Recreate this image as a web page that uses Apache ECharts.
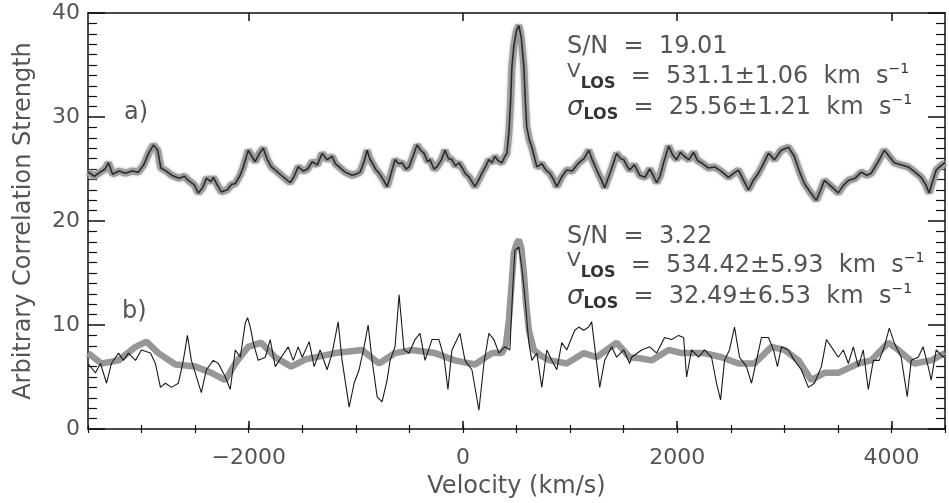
<!DOCTYPE html>
<html>
<head>
<meta charset="utf-8">
<script src="https://cdn.jsdelivr.net/npm/echarts@6/dist/echarts.min.js"></script>
<style>
  html, body { margin: 0; padding: 0; background: #fff; }
  #chart { width: 949px; height: 503px; }
</style>
</head>
<body>
<div id="chart"></div>
<script>
// velocity (km/s) vs correlation strength
const xMin = -3500
const xMax = 4500
const xMajorTicks = [-2000, 0, 2000, 4000]

// a) high S/N spectrum
const curveA = [
  [-3500, 24.7], [-3440, 24.3], [-3400, 24.6], [-3340, 25.0], [-3310, 25.6], [-3270, 24.5],
  [-3210, 24.8], [-3150, 24.6], [-3090, 24.8], [-3030, 24.7], [-2980, 25.4], [-2930, 26.6],
  [-2890, 27.3], [-2850, 26.8], [-2820, 25.1], [-2770, 24.8], [-2720, 24.4], [-2650, 24.1],
  [-2600, 24.3], [-2563, 23.9], [-2510, 23.5], [-2470, 22.7], [-2430, 23.2], [-2395, 24.1],
  [-2350, 23.8], [-2330, 24.2], [-2290, 23.4], [-2255, 22.8], [-2200, 23.0], [-2160, 23.5],
  [-2125, 23.6], [-2080, 24.4], [-2050, 25.2], [-2004, 26.8], [-1970, 26.2], [-1939, 25.7],
  [-1900, 26.5], [-1864, 27.0], [-1830, 26.0], [-1789, 25.2], [-1740, 24.8], [-1696, 24.4],
  [-1650, 24.0], [-1612, 23.7], [-1575, 24.3], [-1538, 25.2], [-1490, 24.8], [-1450, 25.0],
  [-1407, 25.7], [-1360, 25.4], [-1314, 26.5], [-1268, 25.9], [-1221, 26.2], [-1190, 25.5],
  [-1156, 25.2], [-1100, 24.7], [-1035, 24.4], [-1000, 24.5], [-960, 24.7], [-920, 25.8],
  [-895, 26.8], [-870, 26.0], [-848, 25.6], [-810, 24.9], [-783, 24.6], [-740, 23.9],
  [-708, 23.3], [-670, 24.6], [-634, 25.9], [-600, 25.5], [-569, 25.6], [-530, 25.0],
  [-503, 25.2], [-460, 26.4], [-429, 27.3], [-395, 26.8], [-363, 26.5], [-330, 25.7],
  [-308, 25.9], [-270, 25.0], [-242, 25.2], [-200, 25.9], [-168, 26.8], [-135, 26.0],
  [-103, 25.9], [-70, 25.3], [-37, 25.6], [0, 25.0], [19, 24.6], [60, 24.2], [112, 23.3],
  [150, 24.0], [177, 24.6], [210, 25.2], [242, 25.9], [270, 25.6], [298, 26.2], [330, 25.8],
  [363, 25.6], [391, 26.2], [410, 26.5], [429, 28.5], [445, 31.5], [457, 34.8], [475, 36.8],
  [500, 38.3], [522, 38.8], [545, 37.6], [569, 34.8], [585, 31.0], [596, 29.0], [620, 27.8],
  [643, 27.1], [665, 26.2], [690, 25.2], [736, 25.5], [775, 24.9], [811, 24.6], [845, 24.0],
  [876, 23.3], [920, 24.2], [969, 24.9], [1020, 24.8], [1081, 25.6], [1130, 26.0], [1174, 26.8],
  [1210, 25.8], [1249, 24.9], [1290, 24.0], [1323, 23.2], [1380, 24.8], [1435, 26.5],
  [1470, 26.0], [1501, 25.9], [1530, 25.3], [1556, 24.9], [1600, 25.4], [1650, 24.4],
  [1700, 24.2], [1743, 25.0], [1775, 24.4], [1808, 23.7], [1840, 24.3], [1873, 25.6],
  [1920, 27.2], [1955, 26.4], [1994, 25.9], [2030, 26.6], [2069, 26.2], [2110, 25.9],
  [2153, 26.6], [2190, 25.8], [2227, 25.6], [2290, 25.1], [2349, 25.2], [2410, 24.8],
  [2479, 24.2], [2530, 24.6], [2572, 24.9], [2620, 23.9], [2666, 23.0], [2710, 23.9],
  [2759, 24.6], [2800, 25.4], [2852, 26.5], [2908, 25.9], [2970, 26.8], [3038, 27.1],
  [3094, 26.2], [3140, 24.8], [3187, 23.6], [3240, 22.8], [3299, 22.0], [3340, 23.0],
  [3374, 23.9], [3440, 23.3], [3504, 22.7], [3550, 23.4], [3598, 23.9], [3660, 24.1],
  [3719, 24.7], [3770, 24.4], [3812, 24.6], [3870, 25.6], [3933, 26.8], [3980, 26.2],
  [4026, 25.6], [4090, 25.4], [4157, 25.2], [4220, 24.7], [4278, 24.2], [4320, 23.5],
  [4352, 22.7], [4390, 24.0], [4418, 24.9], [4460, 25.3], [4500, 25.6]
]

// b) low S/N spectrum (thin black)
const curveB = [
  [-3500, 6.3], [-3430, 5.4], [-3383, 6.3], [-3327, 4.4], [-3281, 6.3], [-3215, 7.3],
  [-3169, 6.6], [-3122, 7.3], [-3057, 6.6], [-3001, 7.6], [-2917, 7.3], [-2871, 6.3],
  [-2824, 4.0], [-2777, 4.4], [-2721, 4.0], [-2656, 4.4], [-2610, 6.6], [-2572, 9.0],
  [-2535, 6.6], [-2442, 3.5], [-2395, 5.7], [-2330, 6.6], [-2283, 6.3], [-2218, 5.0],
  [-2172, 3.8], [-2125, 7.6], [-2078, 6.9], [-2032, 10.2], [-2010, 10.7], [-1985, 9.8],
  [-1957, 8.3], [-1911, 6.6], [-1845, 6.9], [-1799, 8.6], [-1752, 6.0], [-1696, 6.9],
  [-1631, 7.9], [-1584, 6.6], [-1538, 7.9], [-1500, 6.9], [-1435, 8.4], [-1389, 6.0],
  [-1333, 7.6], [-1268, 5.7], [-1221, 7.3], [-1165, 10.3], [-1128, 6.6], [-1062, 2.1],
  [-1016, 4.4], [-969, 5.7], [-923, 7.9], [-885, 10.0], [-848, 6.6], [-801, 3.1],
  [-755, 2.6], [-708, 4.7], [-680, 6.6], [-634, 7.9], [-596, 12.9], [-550, 7.6],
  [-503, 7.3], [-447, 8.6], [-401, 9.2], [-354, 6.6], [-289, 8.6], [-224, 8.6],
  [-177, 6.9], [-140, 3.8], [-103, 7.6], [-28, 9.2], [19, 6.6], [84, 5.7], [149, 1.8],
  [196, 6.3], [242, 9.2], [289, 8.6], [336, 7.3], [391, 7.9], [438, 7.6], [466, 13.7],
  [485, 17.2], [522, 17.5], [550, 15.5], [578, 12.7], [615, 8.3], [643, 6.6], [690, 7.3],
  [736, 4.0], [783, 7.6], [829, 6.6], [876, 5.7], [923, 8.3], [969, 7.6], [1016, 8.8],
  [1044, 9.5], [1081, 9.8], [1128, 9.5], [1174, 9.8], [1202, 10.3], [1230, 7.9],
  [1277, 4.0], [1323, 6.6], [1389, 7.9], [1435, 6.9], [1501, 7.6], [1556, 6.3],
  [1575, 6.9], [1668, 7.6], [1743, 7.9], [1808, 7.3], [1883, 8.8], [1948, 8.6],
  [2013, 9.0], [2060, 8.8], [2088, 5.0], [2134, 7.6], [2200, 6.9], [2255, 7.6],
  [2321, 6.9], [2367, 4.4], [2405, 2.8], [2442, 6.6], [2488, 7.6], [2535, 9.8],
  [2582, 6.9], [2647, 6.0], [2694, 4.4], [2740, 6.6], [2787, 8.8], [2852, 8.8],
  [2899, 7.6], [2936, 6.0], [2973, 7.9], [3038, 7.6], [3094, 6.6], [3159, 5.7],
  [3225, 4.0], [3281, 4.4], [3346, 6.0], [3393, 8.6], [3439, 7.9], [3504, 6.9],
  [3551, 7.6], [3598, 6.3], [3644, 7.9], [3691, 6.0], [3737, 7.6], [3784, 3.8],
  [3831, 6.6], [3886, 6.6], [3933, 7.9], [3980, 9.7], [4026, 8.3], [4091, 6.9],
  [4147, 3.1], [4185, 6.6], [4250, 6.9], [4296, 7.9], [4343, 6.0], [4371, 4.7],
  [4418, 7.6], [4483, 6.9], [4500, 7.1]
]

// b) smooth fit (thick gray)
const fitB = [
  [-3500, 7.3], [-3374, 6.3], [-3215, 6.6], [-3057, 7.9], [-2954, 8.4], [-2843, 7.3],
  [-2684, 6.2], [-2498, 6.0], [-2349, 5.4], [-2218, 4.7], [-2125, 6.3], [-2004, 7.9],
  [-1883, 8.3], [-1752, 6.9], [-1603, 6.0], [-1470, 6.7], [-1193, 7.3], [-941, 7.6],
  [-783, 6.3], [-634, 7.3], [-475, 7.6], [-261, 7.3], [-75, 6.6], [112, 6.2], [270, 7.3],
  [363, 7.3], [400, 8.0], [429, 10.5], [455, 14.0], [475, 16.9], [500, 17.8], [522, 18.2],
  [545, 17.4], [569, 15.0], [590, 12.0], [615, 9.5], [662, 7.6], [736, 7.0], [811, 6.6],
  [969, 6.3], [1128, 7.3], [1249, 6.9], [1435, 8.3], [1556, 6.9], [1650, 6.8], [1761, 6.6],
  [1920, 7.6], [2041, 7.3], [2255, 7.3], [2414, 6.9], [2572, 6.3], [2721, 6.3], [2880, 7.9],
  [3001, 7.6], [3132, 6.6], [3253, 4.7], [3374, 5.4], [3504, 5.4], [3691, 6.3], [3812, 6.6],
  [3970, 8.3], [4064, 7.6], [4213, 6.3], [4371, 6.6], [4500, 7.3]
]

const font = 'DejaVu Sans'
const textGray = '#555'
const axisColor = '#111'

const chart = echarts.init(document.getElementById('chart'))

const fmtX = (v) => (v < 0 ? '\u2212' + Math.abs(v) : String(v))

// shared axis styling
const lineSty = { color: axisColor, width: 1.5 }

const xMajor = (pos, withLabels) => ({
  type: 'value',
  position: pos,
  min: xMin,
  max: xMax,
  axisLine: { show: true, onZero: false, lineStyle: lineSty },
  axisTick: { show: true, inside: true, length: 8, customValues: xMajorTicks, lineStyle: lineSty },
  axisLabel: withLabels
    ? { show: true, customValues: xMajorTicks, margin: 18, fontSize: 22, fontFamily: font, color: textGray, formatter: fmtX }
    : { show: false },
  splitLine: { show: false },
})

const xMinor = (pos) => ({
  type: 'value',
  position: pos,
  min: xMin,
  max: xMax,
  interval: 500,
  axisLine: { show: false },
  axisTick: { show: true, inside: true, length: 4, lineStyle: { color: axisColor, width: 1.2 } },
  axisLabel: { show: false },
  splitLine: { show: false },
})

const yAxisOf = (pos, withLabels) => ({
  type: 'value',
  position: pos,
  min: 0,
  max: 40,
  interval: 10,
  axisLine: { show: true, onZero: false, lineStyle: lineSty },
  axisTick: { show: true, inside: true, length: 17, lineStyle: lineSty },
  minorTick: { show: true, splitNumber: 10, length: 9, lineStyle: { color: axisColor, width: 1.2 } },
  axisLabel: withLabels
    ? { show: true, margin: 8, fontSize: 22, fontFamily: font, color: textGray }
    : { show: false },
  splitLine: { show: false },
  minorSplitLine: { show: false },
})

const xBottom = xMajor('bottom', true)
xBottom.name = 'Velocity (km/s)'
xBottom.nameLocation = 'middle'
xBottom.nameGap = 46
xBottom.nameTextStyle = { fontSize: 24, fontFamily: font, color: textGray }

const yLeft = yAxisOf('left', true)
yLeft.name = 'Arbitrary Correlation Strength'
yLeft.nameLocation = 'middle'
yLeft.nameGap = 52
yLeft.nameTextStyle = { fontSize: 24, fontFamily: font, color: textGray }

// annotation text helpers
const rich = {
  v: { fontSize: 20, fontFamily: font, fill: textGray, verticalAlign: 'top', lineHeight: 26 },
  sig: { fontSize: 26, fontFamily: font, fontStyle: 'italic', fill: '#444', lineHeight: 30 },
  sub: { fontSize: 16, fontFamily: font, fontWeight: 'bold', fill: '#333', verticalAlign: 'bottom', lineHeight: 10 },
  sup: { fontSize: 14, fontFamily: font, fill: '#333', verticalAlign: 'top', lineHeight: 16 },
}
const note = (txt, x, y) => ({
  type: 'text',
  x: x,
  y: y,
  z: 100,
  style: {
    text: txt,
    fontSize: 24,
    fontFamily: font,
    fill: textGray,
    lineHeight: 30,
    verticalAlign: 'middle',
    rich: rich,
  },
})

chart.setOption({
  animation: false,
  backgroundColor: '#fff',
  grid: { left: 88, right: 4, top: 13, bottom: 74, containLabel: false, outerBoundsMode: 'none' },
  xAxis: [xBottom, xMinor('bottom'), xMajor('top', false), xMinor('top')],
  yAxis: [yLeft, yAxisOf('right', false)],
  graphic: [
    note('a)', 124, 113),
    note('b)', 122, 312),
    note('S/N  =  19.01', 567, 47),
    note('{v|V}{sub|LOS}  =  531.1\u00b11.06  km  s{sup|\u22121}', 567, 77),
    note('{sig|\u03c3}{sub|LOS}  =  25.56\u00b11.21  km  s{sup|\u22121}', 567, 108),
    note('S/N  =  3.22', 567, 237),
    note('{v|V}{sub|LOS}  =  534.42\u00b15.93  km  s{sup|\u22121}', 567, 266),
    note('{sig|\u03c3}{sub|LOS}  =  32.49\u00b16.53  km  s{sup|\u22121}', 567, 297),
  ],
  series: [
    {
      name: 'a halo',
      type: 'line',
      data: curveA,
      symbol: 'none',
      lineStyle: { color: '#9c9c9c', width: 7, shadowBlur: 3, shadowColor: '#b5b5b5' },
      z: 2,
    },
    {
      name: 'a',
      type: 'line',
      data: curveA,
      symbol: 'none',
      lineStyle: { color: '#2a2a2a', width: 1.6 },
      z: 3,
    },
    {
      name: 'b fit',
      type: 'line',
      data: fitB,
      symbol: 'none',
      lineStyle: { color: '#979797', width: 6.5 },
      z: 2,
    },
    {
      name: 'b',
      type: 'line',
      data: curveB,
      symbol: 'none',
      lineStyle: { color: '#1a1a1a', width: 1.1 },
      z: 3,
    },
  ],
})
</script>
</body>
</html>
